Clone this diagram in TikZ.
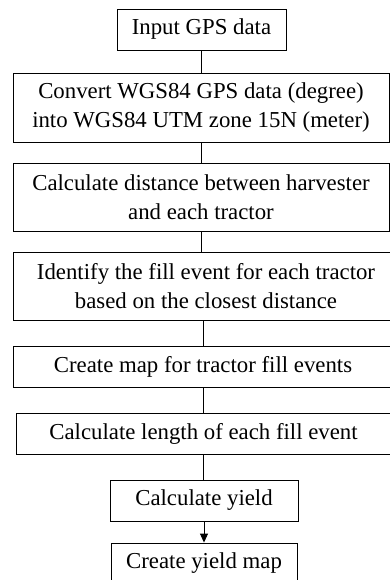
\documentclass[tikz,border=0pt]{standalone}
\usepackage{fontspec}
\setmainfont{Liberation Serif}
\usetikzlibrary{arrows.meta}

\begin{document}
\begin{tikzpicture}[x=1pt, y=1pt,
        stepbox/.style={draw, line width=0.9pt, inner sep=0pt, align=center, minimum height=41pt, font=\fontsize{22.8}{29}\selectfont},
        tallbox/.style={stepbox, minimum height=68pt},
        link/.style={line width=0.9pt},
        arrow/.style={link, -{Triangle[length=9pt, width=8pt]}}
      ]
        \useasboundingbox (0,0) rectangle (390,-580);
        \clip (0,0) rectangle (390,-580);

        % Processing steps, top to bottom
        \node[stepbox, minimum width=169pt] (input) at (201.5,-29.5) {Input GPS data};
        \node[tallbox, minimum width=376pt, minimum height=69pt] (convert) at (201,-107.5) {Convert WGS84 GPS data (degree)\\into WGS84 UTM zone 15N (meter)};
        \node[tallbox, minimum width=376pt] (distance) at (201,-197) {Calculate distance between harvester\\and each tractor};
        \node[tallbox, minimum width=386pt] (identify) at (206,-286) {Identify the fill event for each tractor\\based on the closest distance};
        \node[stepbox, minimum width=380pt] (fillmap) at (203,-366.5) {Create map for tractor fill events};
        \node[stepbox, minimum width=375pt] (length) at (203.5,-433.5) {Calculate length of each fill event};
        \node[stepbox, minimum width=188pt] (yield) at (204,-500.5) {Calculate yield};
        \node[stepbox, minimum width=186pt] (yieldmap) at (204,-563.5) {Create yield map};

        % Connections
        \draw[link] (input.south) -- (input.south |- convert.north);
        \draw[link] (convert.south) -- (convert.south |- distance.north);
        \draw[link] (distance.south) -- (distance.south |- identify.north);
        \draw[link] (fillmap.north |- identify.south) -- (fillmap.north);
        \draw[link] (fillmap.south) -- (fillmap.south |- length.north);
        \draw[link] (length.south) -- (length.south |- yield.north);
        \draw[arrow] (yield.south) -- (yieldmap.north);
\end{tikzpicture}
\end{document}
